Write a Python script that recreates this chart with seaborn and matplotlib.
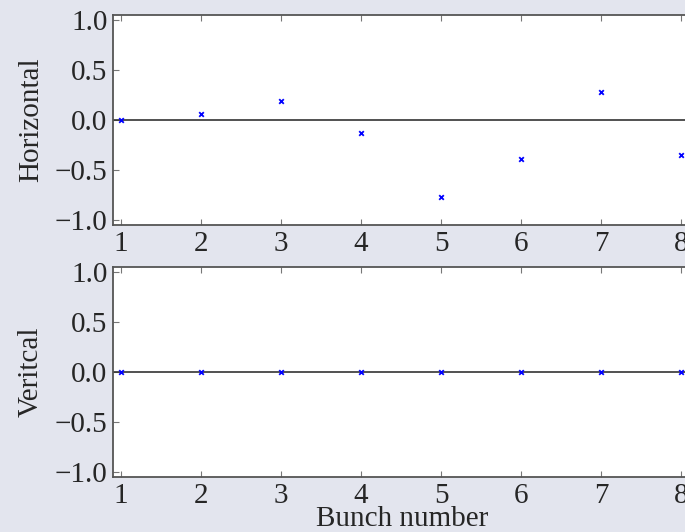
import numpy as np
import pandas as pd
import matplotlib
matplotlib.use("Agg")
import matplotlib.pyplot as plt
import seaborn as sns

bunch = [1, 2, 3, 4, 5, 6, 7, 8]
horizontal = [0.0, 0.065, 0.19, -0.13, -0.765, -0.39, 0.28, -0.35]
vertical = [0.0, 0.0, 0.0, 0.0, 0.0, 0.0, 0.0, 0.0]
yticks = [-1.0, -0.5, 0.0, 0.5, 1.0]
ytick_labels = ["\u22121.0", "\u22120.5", "0.0", "0.5", "1.0"]
panel_labels = ["Horizontal", "Veritcal"]
xlabel = "Bunch number"

sns.set_theme(style="ticks")
plt.rcParams["font.family"] = ["Liberation Serif", "DejaVu Serif"]
plt.rcParams["axes.unicode_minus"] = True

bg = "#e3e5ee"
fig = plt.figure(figsize=(6.85, 5.32), dpi=100, facecolor=bg)
W, H = 685, 532
FS = 21

def make_ax(top_px, bottom_px):
    left_px = 113
    width_px = 576
    return fig.add_axes([left_px / W, 1 - bottom_px / H, width_px / W, (bottom_px - top_px) / H])

ax1 = make_ax(15, 225)
ax2 = make_ax(267, 477)

df = pd.DataFrame({"bunch": bunch, "Horizontal": horizontal, "Veritcal": vertical})

for ax, col, lab in zip([ax1, ax2], ["Horizontal", "Veritcal"], panel_labels):
    ax.set_facecolor("white")
    ax.axhline(0, color="#333333", lw=1.2, zorder=1)
    sns.scatterplot(data=df, x="bunch", y=col, ax=ax, marker="x", color="blue",
                    s=11, linewidth=1.3, zorder=3, legend=False)
    ax.set_xlim(0.9, 8.1)
    ax.set_ylim(-1.05, 1.05)
    ax.set_xticks(bunch)
    ax.set_xticklabels([str(b) for b in bunch], fontsize=FS)
    ax.set_yticks(yticks)
    ax.set_yticklabels(ytick_labels, fontsize=FS)
    ax.tick_params(direction="in", length=4, width=0.8, color="#777777",
                   top=True, right=False, pad=4)
    for sp in ax.spines.values():
        sp.set_color("#555555")
        sp.set_linewidth(1.3)
    ax.set_ylabel(lab, fontsize=FS)
    ax.yaxis.set_label_coords(-0.12, 0.5)
    ax.set_xlabel("")

ax2.set_xlabel(xlabel, fontsize=FS)
ax2.xaxis.set_label_coords(0.502, -0.14)

fig.savefig("out.png", dpi=100, facecolor=bg)
